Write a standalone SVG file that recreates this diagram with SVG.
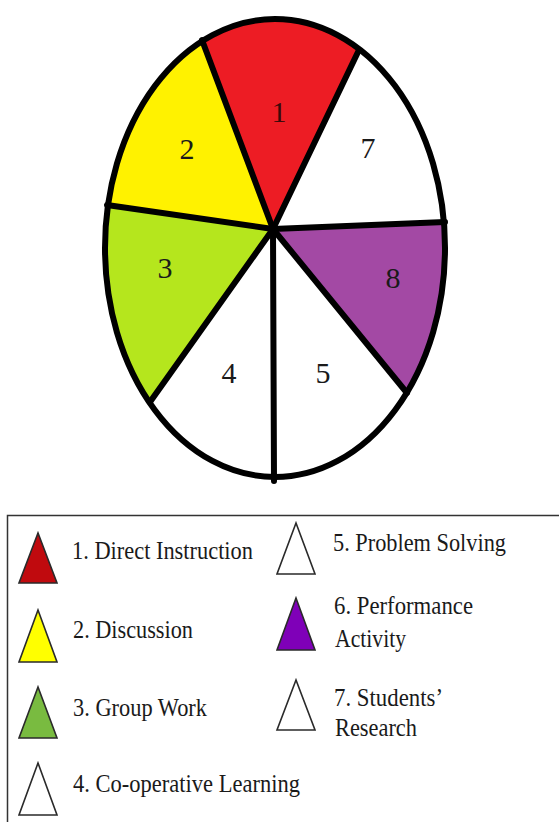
<svg xmlns="http://www.w3.org/2000/svg" width="559" height="822" viewBox="0 0 559 822">
  <style>
    .num { font-family: Liberation Serif, Times New Roman, Times, serif; font-size: 30px; fill: #1a1a1a; text-anchor: middle; }
    .lbl { font-family: Liberation Serif, Times New Roman, Times, serif; font-size: 24.5px; fill: #1a1a1a; }
    .spoke { stroke: #000; stroke-width: 6; stroke-linecap: round; }
    .tri { stroke: #2a2a2a; stroke-width: 1.6; stroke-linejoin: miter; }
  </style>
  <defs>
    <clipPath id="pieClip">
      <ellipse cx="275" cy="248" rx="170" ry="229"/>
    </clipPath>
  </defs>
  <rect x="0" y="0" width="559" height="822" fill="#ffffff"/>

  <g id="pie">
    <ellipse cx="275" cy="248" rx="170" ry="229" fill="#ffffff"/>
    <g clip-path="url(#pieClip)">
      <polygon id="sector-1" points="273,229 60,-338 528,-302" fill="#ED1C24"/>
      <polygon id="sector-7" points="273,229 528,-302 789,208" fill="#ffffff"/>
      <polygon id="sector-8" points="273,229 789,208 675,721" fill="#A349A4"/>
      <polygon id="sector-5" points="273,229 675,721 276,982" fill="#ffffff"/>
      <polygon id="sector-4" points="273,229 276,982 -96,748" fill="#ffffff"/>
      <polygon id="sector-3" points="273,229 -96,748 -225,157" fill="#B5E61D"/>
      <polygon id="sector-2" points="273,229 -225,157 60,-338" fill="#FFF200"/>
    </g>
    <g id="spokes">
      <line class="spoke" x1="273" y1="229" x2="202" y2="40"/>
      <line class="spoke" x1="273" y1="229" x2="358" y2="52"/>
      <line class="spoke" x1="273" y1="229" x2="445" y2="222"/>
      <line class="spoke" x1="273" y1="229" x2="407" y2="393"/>
      <line class="spoke" x1="273" y1="229" x2="274" y2="481"/>
      <line class="spoke" x1="273" y1="229" x2="150" y2="402"/>
      <line class="spoke" x1="273" y1="229" x2="107" y2="205"/>
    </g>
    <ellipse cx="275" cy="248" rx="170" ry="229" fill="none" stroke="#000" stroke-width="6"/>
    <g id="pie-labels">
      <text class="num" x="279" y="122" style="fill:#3a0a0a">1</text>
      <text class="num" x="187" y="159">2</text>
      <text class="num" x="165" y="278">3</text>
      <text class="num" x="229" y="383">4</text>
      <text class="num" x="323" y="383">5</text>
      <text class="num" x="368" y="158">7</text>
      <text class="num" x="393" y="288">8</text>
    </g>
  </g>

  <g id="legend">
    <rect x="7.5" y="515.5" width="570" height="330" fill="#ffffff" stroke="#333333" stroke-width="1.5"/>
    <g id="legend-1">
      <polygon class="tri" points="38,533 19,583 57,583" fill="#C00A0E"/>
      <text class="lbl" x="72" y="559" textLength="181" lengthAdjust="spacingAndGlyphs">1. Direct Instruction</text>
    </g>
    <g id="legend-2">
      <polygon class="tri" points="38,610 19,662 57,662" fill="#FFFF00"/>
      <text class="lbl" x="73" y="638" textLength="120" lengthAdjust="spacingAndGlyphs">2. Discussion</text>
    </g>
    <g id="legend-3">
      <polygon class="tri" points="38,687 19,738 57,738" fill="#79BB40"/>
      <text class="lbl" x="73" y="716" textLength="134" lengthAdjust="spacingAndGlyphs">3. Group Work</text>
    </g>
    <g id="legend-4">
      <polygon class="tri" points="38,763 19,815 57,815" fill="#ffffff"/>
      <text class="lbl" x="73" y="792" textLength="227" lengthAdjust="spacingAndGlyphs">4. Co-operative Learning</text>
    </g>
    <g id="legend-5">
      <polygon class="tri" points="296,523 277,574 315,574" fill="#ffffff"/>
      <text class="lbl" x="333" y="551" textLength="173" lengthAdjust="spacingAndGlyphs">5. Problem Solving</text>
    </g>
    <g id="legend-6">
      <polygon class="tri" points="296,598 277,650 315,650" fill="#7F00B8"/>
      <text class="lbl" x="334" y="614" textLength="139" lengthAdjust="spacingAndGlyphs">6. Performance</text>
      <text class="lbl" x="335" y="647" textLength="71" lengthAdjust="spacingAndGlyphs">Activity</text>
    </g>
    <g id="legend-7">
      <polygon class="tri" points="296,680 277,730 315,730" fill="#ffffff"/>
      <text class="lbl" x="334" y="706" textLength="109" lengthAdjust="spacingAndGlyphs">7. Students’</text>
      <text class="lbl" x="335" y="736" textLength="82" lengthAdjust="spacingAndGlyphs">Research</text>
    </g>
  </g>
</svg>
